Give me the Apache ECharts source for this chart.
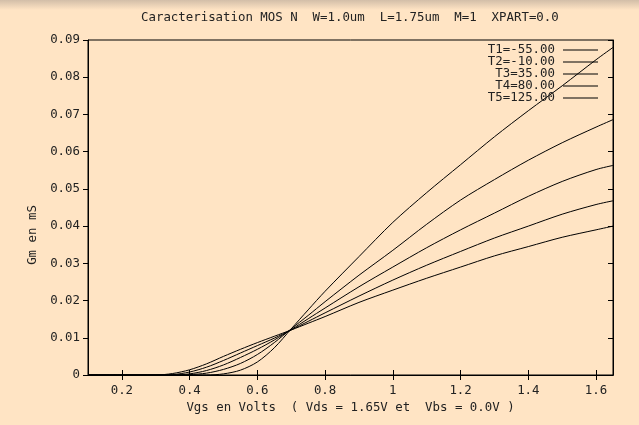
<!DOCTYPE html>
<html>
<head>
<meta charset="utf-8">
<script src="https://cdn.jsdelivr.net/npm/echarts@6/dist/echarts.min.js"></script>
<style>
html,body{margin:0;padding:0;background:#ffe4c4;}
#c{width:639px;height:425px;}
</style>
</head>
<body>
<div id="c"></div>
<script>
var titleText = 'Caracterisation MOS N  W=1.0um  L=1.75um  M=1  XPART=0.0';
var xName = 'Vgs en Volts  ( Vds = 1.65V et  Vbs = 0.0V )';
var yName = 'Gm en mS';
var seriesNames = ['T1=-55.00', 'T2=-10.00', 'T3=35.00', 'T4=80.00', 'T5=125.00'];
var xTicks = [0.2, 0.4, 0.6, 0.8, 1.0, 1.2, 1.4, 1.6];

var vgs = [0.1, 0.2, 0.3, 0.35, 0.4, 0.45, 0.5, 0.55, 0.6, 0.65, 0.7, 0.75, 0.8, 0.9, 1.0, 1.1, 1.2, 1.3, 1.4, 1.5, 1.6, 1.65];
var t1 = [0, 0, 0, 0, 0, 0, 0.0003, 0.0013, 0.0035, 0.0073, 0.0124, 0.0175, 0.0225, 0.0318, 0.041, 0.049, 0.0565, 0.064, 0.071, 0.0777, 0.0847, 0.088];
var t2 = [0, 0, 0, 0, 0.0001, 0.0005, 0.0015, 0.0031, 0.0055, 0.0087, 0.0124, 0.016, 0.0197, 0.0268, 0.0335, 0.0405, 0.047, 0.0525, 0.0577, 0.0624, 0.0666, 0.0686];
var t3 = [0, 0, 0, 0, 0.0003, 0.0012, 0.0027, 0.0047, 0.0069, 0.0094, 0.0122, 0.0151, 0.018, 0.0237, 0.029, 0.0342, 0.039, 0.0435, 0.048, 0.052, 0.0552, 0.0563];
var t4 = [0, 0, 0, 0.0001, 0.0008, 0.0021, 0.0039, 0.0059, 0.0079, 0.0099, 0.0121, 0.0144, 0.0167, 0.0212, 0.0255, 0.0295, 0.0332, 0.0368, 0.040, 0.0432, 0.0458, 0.0468];
var t5 = [0, 0, 0, 0.0004, 0.0014, 0.003, 0.005, 0.0069, 0.0087, 0.0104, 0.0121, 0.0139, 0.0157, 0.0195, 0.0228, 0.026, 0.029, 0.032, 0.0345, 0.037, 0.039, 0.040];

var allY = [t1, t2, t3, t4, t5];
var font = 'DejaVu Sans Mono';
var fs = 12.4;
var txt = '#222';

var series = seriesNames.map(function (n, i) {
  return {
    name: n,
    type: 'line',
    symbol: 'none',
    smooth: 0.3,
    lineStyle: { color: '#000', width: 1 },
    itemStyle: { color: '#000' },
    data: vgs.map(function (x, j) { return [x, allY[i][j]]; })
  };
});

var chart = echarts.init(document.getElementById('c'));
chart.setOption({
  backgroundColor: '#ffe4c4',
  animation: false,
  title: {
    text: titleText,
    left: 141,
    top: 12,
    padding: 0,
    textStyle: { fontFamily: font, fontSize: fs, fontWeight: 'normal', color: txt }
  },
  legend: {
    orient: 'vertical',
    right: 36,
    top: 39,
    align: 'right',
    icon: 'rect',
    itemWidth: 35,
    itemHeight: 1,
    itemGap: 0,
    textStyle: { fontFamily: font, fontSize: fs, color: txt, padding: [0, 3, 0, 0] },
    data: seriesNames.map(function (n) { return { name: n, itemStyle: { color: '#000' } }; })
  },
  grid: { left: 88, right: 26, top: 40, bottom: 50, show: true, borderColor: '#000', borderWidth: 1 },
  xAxis: [{
    type: 'value',
    min: 0.1,
    max: 1.65,
    name: xName,
    nameLocation: 'middle',
    nameGap: 27,
    nameTextStyle: { fontFamily: font, fontSize: fs, color: txt },
    axisLine: { show: true, lineStyle: { color: '#000' } },
    axisTick: { show: true, inside: true, length: 5, customValues: xTicks, lineStyle: { color: '#000' } },
    axisLabel: { customValues: xTicks, fontFamily: font, fontSize: fs, color: txt, margin: 10,
      formatter: function (v) { return String(+(+v).toFixed(1)); } },
    splitLine: { show: false }
  }, {
    type: 'value',
    position: 'top',
    min: 0.1,
    max: 1.65,
    axisLine: { show: true, lineStyle: { color: '#000' } },
    axisTick: { show: true, inside: true, length: 5, customValues: xTicks, lineStyle: { color: '#000' } },
    axisLabel: { show: false },
    splitLine: { show: false }
  }],
  yAxis: [{
    type: 'value',
    min: 0,
    max: 0.09,
    interval: 0.01,
    axisLine: { show: true, lineStyle: { color: '#000' } },
    axisTick: { show: true, inside: false, length: 5, lineStyle: { color: '#000' } },
    axisLabel: { fontFamily: font, fontSize: fs, color: txt, margin: 8,
      formatter: function (v) { return v === 0 ? '0' : v.toFixed(2); } },
    splitLine: { show: false }
  }, {
    type: 'value',
    position: 'right',
    min: 0,
    max: 0.09,
    interval: 0.01,
    axisLine: { show: true, lineStyle: { color: '#000' } },
    axisTick: { show: true, inside: true, length: 5, lineStyle: { color: '#000' } },
    axisLabel: { show: false },
    splitLine: { show: false }
  }],
  graphic: [{
    type: 'rect',
    left: 0, top: 0, z: -1,
    shape: { width: 639, height: 10 },
    style: { fill: new echarts.graphic.LinearGradient(0, 0, 0, 1, [
      { offset: 0, color: '#d2bea8' }, { offset: 1, color: '#ffe4c4' }]) }
  }, {
    type: 'text',
    x: 33, y: 235,
    rotation: Math.PI / 2,
    style: { text: yName, fontFamily: font, fontSize: fs, fill: txt, align: 'center', verticalAlign: 'middle' }
  }],
  series: series
});
</script>
</body>
</html>
